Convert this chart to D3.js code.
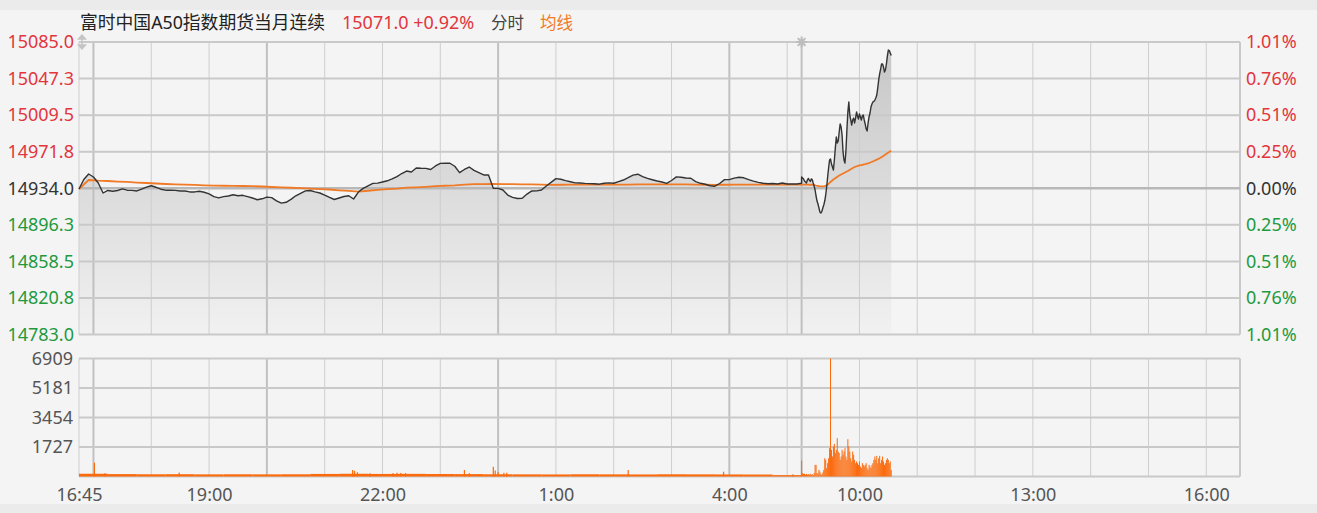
<!DOCTYPE html>
<html lang="zh">
<head>
<meta charset="utf-8">
<title>富时中国A50指数期货当月连续 分时</title>
<script src="https://cdn.jsdelivr.net/npm/d3@7"></script>
<style>
    html, body { margin: 0; padding: 0; background: #ebebeb; }
    svg { display: block; }
    text { font-family: "Noto Sans", "Noto Sans CJK SC", sans-serif; }
</style>
</head>
<body>
<svg id="chart" width="1317" height="513"></svg>

<script>
// ---------- data ----------
var titleText = "富时中国A50指数期货当月连续";
var quoteText = "15071.0 +0.92%";
var basePrice = 14934.0;

var priceTicks  = [15085.0, 15047.25, 15009.5, 14971.75, 14934.0, 14896.25, 14858.5, 14820.75, 14783.0];
var priceLabels = ["15085.0", "15047.3", "15009.5", "14971.8", "14934.0", "14896.3", "14858.5", "14820.8", "14783.0"];
var pctLabels   = ["1.01%", "0.76%", "0.51%", "0.25%", "0.00%", "0.25%", "0.51%", "0.76%", "1.01%"];

var volTicks  = [1727, 3454, 5181, 6909];
var volMax    = 6909;

var timeTicks  = ["16:45", "19:00", "22:00", "1:00", "4:00", "10:00", "13:00", "16:00"];
var gridTimes  = ["17:00", "18:00", "19:00", "20:00", "21:00", "22:00", "23:00", "0:00", "1:00", "2:00",
                  "3:00", "4:00", "5:00", "9:00", "10:00", "11:00", "12:00", "13:00", "14:00", "15:00", "16:00"];
var majorTimes = ["17:00", "20:00", "0:00", "4:00", "9:00"];

// night session price, every 5 min from 16:45 to 05:15
var nightPrice = [
    14933.2, 14943.0, 14948.7, 14945.6, 14939.4, 14929.1, 14931.7, 14930.9, 14931.7, 14933.4,
    14932.0, 14931.8, 14931.2, 14933.2, 14935.1, 14936.6, 14935.0, 14933.0, 14932.0, 14932.0,
    14931.8, 14931.2, 14931.1, 14930.2, 14930.2, 14930.9, 14929.9, 14928.2, 14925.3, 14924.0,
    14925.3, 14926.0, 14927.3, 14926.3, 14926.7, 14925.4, 14923.9, 14922.1, 14923.1, 14924.8,
    14924.3, 14920.9, 14918.6, 14919.5, 14922.5, 14926.2, 14928.8, 14931.3, 14931.7, 14930.3,
    14929.1, 14927.0, 14924.6, 14922.4, 14923.9, 14925.5, 14926.3, 14922.9, 14930.1, 14933.9,
    14936.5, 14939.0, 14939.3, 14940.5, 14941.7, 14943.6, 14946.1, 14949.2, 14951.8, 14950.8,
    14954.9, 14954.6, 14954.5, 14953.4, 14957.0, 14959.7, 14959.8, 14959.8, 14956.7, 14950.1,
    14953.4, 14955.9, 14952.4, 14950.1, 14947.7, 14947.7, 14933.9, 14933.9, 14932.2, 14927.0,
    14924.6, 14923.4, 14923.7, 14928.0, 14931.2, 14931.3, 14932.2, 14936.3, 14940.1, 14943.9,
    14943.3, 14941.9, 14940.7, 14939.6, 14939.4, 14939.0, 14938.8, 14938.6, 14938.2, 14939.1,
    14939.6, 14939.2, 14940.9, 14942.5, 14944.9, 14947.5, 14948.5, 14946.1, 14944.2, 14942.8,
    14941.5, 14940.5, 14939.1, 14942.0, 14945.7, 14945.3, 14944.6, 14944.3, 14940.9, 14939.1,
    14938.1, 14936.6, 14936.1, 14938.9, 14942.9, 14942.9, 14944.4, 14945.4, 14944.8, 14942.9,
    14941.3, 14940.1, 14939.1, 14938.7, 14938.9, 14938.4, 14939.4, 14938.4, 14938.5, 14938.4,
    14939.1
];

// day session price, every minute from 09:00 to 10:33
var dayPrice = [
    14945.6, 14944.6, 14943.6, 14941.5, 14940.5, 14939.4, 14942.5, 14944.1, 14942.5, 14941.0,
    14943.6, 14943.0, 14939.4, 14936.3, 14932.2, 14926.0, 14920.8, 14917.7, 14913.6, 14909.5,
    14908.4, 14910.0, 14913.6, 14916.7, 14920.8, 14927.0, 14935.3, 14945.6, 14954.9, 14963.2,
    14964.2, 14959.0, 14955.9, 14952.8, 14963.2, 14975.6, 14986.9, 14980.7, 14982.8, 14992.1,
    15000.3, 14997.2, 14989.0, 14971.4, 14963.2, 14960.1, 14972.5, 14994.1, 15012.7, 15023.1,
    15009.6, 15004.5, 14999.3, 15004.5, 15006.5, 15001.4, 15006.5, 15012.7, 15008.6, 15005.5,
    15010.7, 15007.6, 15004.5, 15008.6, 15009.6, 15004.5, 15000.3, 14995.2, 14993.1, 15001.4,
    15007.6, 15011.7, 15017.9, 15021.0, 15023.1, 15023.6, 15025.1, 15027.2, 15030.3, 15037.5,
    15045.8, 15052.0, 15057.1, 15062.3, 15062.3, 15059.2, 15054.0, 15056.1, 15062.3, 15070.5,
    15076.7, 15076.2, 15073.6, 15071.0
];

// average price line, night every 10 min, day every 3 min
var nightAvg = [
    14933.2, 14942.5, 14941.8, 14941.5, 14940.9, 14940.5, 14939.9, 14939.4, 14938.9, 14938.4,
    14938.1, 14937.8, 14937.4, 14937.0, 14936.7, 14936.6, 14936.5, 14936.3, 14936.1, 14935.8,
    14935.3, 14934.9, 14934.5, 14934.1, 14933.6, 14933.2, 14932.7, 14931.9, 14931.2, 14930.5,
    14931.4, 14932.4, 14933.2, 14933.7, 14934.6, 14935.0, 14935.5, 14936.1, 14936.6, 14937.0,
    14937.8, 14938.2, 14938.3, 14938.4, 14938.3, 14938.2, 14938.1, 14938.0, 14937.7, 14937.5,
    14937.6, 14937.7, 14937.7, 14937.7, 14937.7, 14937.7, 14937.7, 14937.8, 14937.9, 14938.0,
    14938.0, 14938.0, 14938.0, 14937.9, 14937.8, 14937.6, 14937.5, 14937.6, 14937.7, 14937.8,
    14937.8, 14937.8, 14937.8, 14937.8, 14937.8, 14937.8
];
var dayAvg = [
    14937.8, 14937.8, 14937.7, 14937.6, 14937.4, 14936.8, 14936.3, 14936.0, 14936.3, 14937.6,
    14940.5, 14943.0, 14945.1, 14947.2, 14948.7, 14950.3, 14951.8, 14953.6, 14955.4, 14956.7,
    14957.5, 14958.2, 14958.8, 14959.6, 14960.8, 14962.1, 14963.5, 14965.0, 14966.8, 14968.8,
    14970.9, 14972.8
];

// volume: night base level per minute in 30-min blocks, night single spikes, day per minute
var nightVolBase = [160, 140, 130, 135, 125, 130, 125, 130, 150, 160, 150, 155, 145, 140, 130, 125, 120, 130, 125, 120, 130, 125, 120, 115, 80];
var nightVolSpikes = [
    ["17:01", 810], ["17:12", 190], ["18:29", 230], ["21:29", 380], ["21:31", 330], ["21:34", 250],
    ["21:47", 190], ["22:11", 200], ["22:15", 220], ["22:19", 210], ["22:24", 200], ["23:25", 380],
    ["23:30", 200], ["23:55", 570], ["23:57", 350], ["0:00", 250], ["0:06", 220], ["0:09", 220],
    ["2:15", 380], ["3:54", 280], ["5:06", 130]
];
var dayVol = [
    930, 195, 156, 160, 100, 156, 100, 140, 100, 160,
    100, 140, 80, 200, 680, 680, 195, 195, 390, 290,
    160, 100, 230, 390, 1070, 975, 490, 780, 1070, 1660,
    6909, 1560, 1170, 1760, 1910, 1370, 1560, 2245, 1460, 1370,
    975, 1170, 1560, 1270, 1460, 1660, 1170, 975, 2185, 1760,
    1460, 1070, 880, 1460, 1270, 975, 780, 880, 780, 680,
    880, 585, 490, 780, 680, 585, 680, 780, 490, 390,
    680, 585, 490, 680, 780, 975, 1170, 975, 1210, 780,
    1070, 1210, 780, 975, 1170, 880, 680, 780, 975, 1070,
    975, 780, 880, 390
];

// ---------- layout ----------
var W = 1317, H = 513;
var L = 79, R = 1240;
var pTop = 42, pBot = 334.5;
var vTop = 358.5, vBot = 476.5;
var NUMFONT = 18, CJKFONT = 16.5, TITLEFONT = 17.8;
var RED = "#e2363c", GREEN = "#1f9a3e", DARK = "#333333", GREY = "#555555";
var ORANGE = "#f07a26", VOLCOL = "#fb6a0c";
var GRID = "#c9c9c9";

// minutes since 16:45 on the trading timeline (night 16:45-05:15, day 09:00-16:35)
function idx(s) {
    var p = s.split(":"), m = +p[0] * 60 + +p[1];
    if (m >= 16 * 60 + 45) return m - (16 * 60 + 45);
    if (m <= 5 * 60 + 15) return m + 24 * 60 - (16 * 60 + 45);
    return 750 + (m - 9 * 60);
}
var DAY0 = idx("9:00");

var x  = d3.scaleLinear().domain([0, idx("16:35")]).range([L, R]);
var yP = d3.scaleLinear().domain([14783.0, 15085.0]).range([pBot, pTop]);
var yV = d3.scaleLinear().domain([0, volMax]).range([vBot, vTop]);

var svg = d3.select("#chart");

svg.append("rect").attr("x", 0).attr("y", 10).attr("width", W).attr("height", 494).attr("fill", "#f4f4f4");

var grad = svg.append("defs").append("linearGradient")
    .attr("id", "pxFill").attr("gradientUnits", "userSpaceOnUse")
    .attr("x1", 0).attr("x2", 0).attr("y1", pTop).attr("y2", pBot);
grad.append("stop").attr("offset", 0).attr("stop-color", "#c6c6c6");
grad.append("stop").attr("offset", 1).attr("stop-color", "#f1f1f1");

// series
var pricePts = nightPrice.map(function (v, i) { return { t: i * 5, v: v }; })
    .concat(dayPrice.map(function (v, i) { return { t: DAY0 + i, v: v }; }));
var avgPts = nightAvg.map(function (v, i) { return { t: i * 10, v: v }; })
    .concat(dayAvg.map(function (v, i) { return { t: DAY0 + i * 3, v: v }; }));

// price area
svg.append("path").datum(pricePts)
    .attr("fill", "url(#pxFill)")
    .attr("d", d3.area().x(function (d) { return x(d.t); }).y0(pBot).y1(function (d) { return yP(d.v); }));

// grid, both panels
function vGrid(top, bot) {
    svg.append("g").selectAll("line").data(gridTimes).join("line")
        .attr("x1", function (d) { return x(idx(d)); }).attr("x2", function (d) { return x(idx(d)); })
        .attr("y1", top).attr("y2", bot)
        .attr("stroke", function (d) { return majorTimes.indexOf(d) >= 0 ? "#c0c0c0" : "#cecece"; })
        .attr("stroke-width", function (d) { return majorTimes.indexOf(d) >= 0 ? 2 : 1; });
    svg.append("line").attr("x1", L).attr("x2", L).attr("y1", top).attr("y2", bot)
        .attr("stroke", "#cecece").attr("stroke-width", 1);
    svg.append("line").attr("x1", R).attr("x2", R).attr("y1", top).attr("y2", bot)
        .attr("stroke", GRID).attr("stroke-width", 2);
}
vGrid(pTop, pBot);
vGrid(vTop, vBot);

svg.append("g").selectAll("line").data(priceTicks).join("line")
    .attr("x1", L).attr("x2", R)
    .attr("y1", function (d) { return yP(d); }).attr("y2", function (d) { return yP(d); })
    .attr("stroke", function (d) { return d === basePrice ? "#b8b8b8" : GRID; })
    .attr("stroke-width", function (d) { return d === basePrice ? 2.5 : 2; });

svg.append("g").selectAll("line").data([0].concat(volTicks)).join("line")
    .attr("x1", L).attr("x2", R)
    .attr("y1", function (d) { return yV(d); }).attr("y2", function (d) { return yV(d); })
    .attr("stroke", GRID).attr("stroke-width", 2);

// price + average lines
svg.append("path").datum(avgPts)
    .attr("fill", "none").attr("stroke", ORANGE).attr("stroke-width", 1.8)
    .attr("d", d3.line().x(function (d) { return x(d.t); }).y(function (d) { return yP(d.v); }));
svg.append("path").datum(pricePts)
    .attr("fill", "none").attr("stroke", "#333").attr("stroke-width", 1.4).attr("stroke-linejoin", "round")
    .attr("d", d3.line().x(function (d) { return x(d.t); }).y(function (d) { return yP(d.v); }));

// volume bars
svg.append("g").selectAll("rect").data(nightVolBase).join("rect")
    .attr("x", function (d, i) { return x(i * 30); })
    .attr("width", function (d, i) { return x((i + 1) * 30) - x(i * 30); })
    .attr("y", function (d) { return yV(d); })
    .attr("height", function (d) { return vBot - yV(d); })
    .attr("fill", VOLCOL);
svg.append("g").selectAll("rect").data(nightVolSpikes).join("rect")
    .attr("x", function (d) { return x(idx(d[0])) - 0.6; }).attr("width", 1.2)
    .attr("y", function (d) { return yV(d[1]); })
    .attr("height", function (d) { return vBot - yV(d[1]); })
    .attr("fill", VOLCOL);
svg.append("g").selectAll("rect").data(dayVol).join("rect")
    .attr("x", function (d, i) { return x(DAY0 + i) - 0.5; }).attr("width", 1)
    .attr("y", function (d) { return yV(d); })
    .attr("height", function (d) { return vBot - yV(d); })
    .attr("fill", VOLCOL);

// axes (labels only)
function styleAxis(g) {
    g.select(".domain").remove();
    g.selectAll("line").remove();
    g.attr("font-family", null).attr("font-size", NUMFONT);
}
function priceColor(i) { return i < 4 ? RED : (i === 4 ? DARK : GREEN); }

svg.append("g").attr("transform", "translate(" + L + ",0)")
    .call(d3.axisLeft(yP).tickValues(priceTicks).tickSize(0).tickPadding(5)
        .tickFormat(function (d, i) { return priceLabels[i]; }))
    .call(styleAxis)
    .selectAll("text").attr("fill", function (d, i) { return priceColor(i); });

svg.append("g").attr("transform", "translate(" + R + ",0)")
    .call(d3.axisRight(yP).tickValues(priceTicks).tickSize(0).tickPadding(6)
        .tickFormat(function (d, i) { return pctLabels[i]; }))
    .call(styleAxis)
    .selectAll("text").attr("fill", function (d, i) { return priceColor(i); });

svg.append("g").attr("transform", "translate(" + L + ",0)")
    .call(d3.axisLeft(yV).tickValues(volTicks).tickSize(0).tickPadding(6).tickFormat(d3.format("d")))
    .call(styleAxis)
    .selectAll("text").attr("fill", GREY);

svg.append("g").attr("transform", "translate(0," + vBot + ")")
    .call(d3.axisBottom(x).tickValues(timeTicks.map(idx)).tickSize(0).tickPadding(12)
        .tickFormat(function (d, i) { return timeTicks[i]; }))
    .call(styleAxis)
    .selectAll("text").attr("fill", GREY);

// header
var head = svg.append("g");
head.append("text").attr("x", 80).attr("y", 29).attr("font-size", TITLEFONT).attr("fill", "#222").text(titleText);
head.append("text").attr("x", 342).attr("y", 29).attr("font-size", NUMFONT).attr("fill", RED).text(quoteText);
head.append("text").attr("x", 491).attr("y", 29).attr("font-size", CJKFONT).attr("fill", "#444").text("分时");
head.append("text").attr("x", 540).attr("y", 29).attr("font-size", CJKFONT).attr("fill", ORANGE).text("均线");

// small markers: resize arrow at top-left, session star at 09:00
var ax = L + 3;
svg.append("path")
    .attr("d", "M" + ax + "," + (pTop - 7) + " l-3.5,4 h7 z M" + ax + "," + (pTop + 7) + " l-3.5,-4 h7 z M" + ax + "," + (pTop - 4) + " v8")
    .attr("fill", "#c4c4c4").attr("stroke", "#c4c4c4").attr("stroke-width", 1.4);

var sx = x(DAY0), sy = pTop;
svg.append("g").attr("stroke", "#bdbdbd").attr("stroke-width", 2)
    .selectAll("line").data([0, 45, 90, 135]).join("line")
    .attr("x1", function (a) { return sx + 5.5 * Math.cos(a * Math.PI / 180); })
    .attr("y1", function (a) { return sy + 5.5 * Math.sin(a * Math.PI / 180); })
    .attr("x2", function (a) { return sx - 5.5 * Math.cos(a * Math.PI / 180); })
    .attr("y2", function (a) { return sy - 5.5 * Math.sin(a * Math.PI / 180); });
svg.append("circle").attr("cx", sx).attr("cy", sy).attr("r", 3).attr("fill", "#bdbdbd");
</script>
</body>
</html>
